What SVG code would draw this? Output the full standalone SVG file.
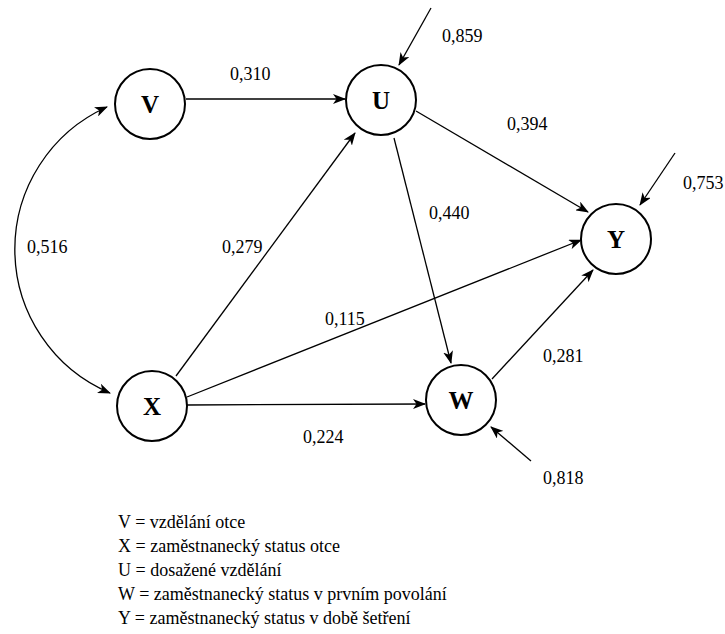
<svg xmlns="http://www.w3.org/2000/svg" width="725" height="634" viewBox="0 0 725 634">
<defs>
<marker id="ah" markerUnits="userSpaceOnUse" markerWidth="13" markerHeight="10" refX="12" refY="5" orient="auto-start-reverse">
<path d="M0,0 L13,5 L0,10 L3.5,5 z" fill="#000"/>
</marker>
<style>
.node circle{fill:#fff;stroke:#000;stroke-width:2}
.node text{font-family:"Liberation Serif","Times New Roman",serif;font-weight:bold;font-size:25px;text-anchor:middle}
.c{stroke:#000;stroke-width:1.3;fill:none;marker-end:url(#ah)}
.lbl{font-family:"Liberation Serif","Times New Roman",serif;font-size:18px;fill:#000}
.leg{font-family:"Liberation Serif","Times New Roman",serif;font-size:18px;fill:#000}
</style>
</defs>
<rect width="725" height="634" fill="#fff"/>
<g id="connectors">
<path class="c" d="M186,99 L345,99"/>
<path class="c" d="M416,111 L588,212"/>
<path class="c" d="M394,138 L451,363"/>
<path class="c" d="M176,376 L355,133"/>
<path class="c" d="M187,397 L581,240"/>
<path class="c" d="M187,405 L425,404"/>
<path class="c" d="M492,379 L593,270"/>
<path class="c" d="M431,8 L399,65"/>
<path class="c" d="M675,153 L640,205"/>
<path class="c" d="M531,461 L491,427"/>
<path class="c" d="M110,393 A156,156 0 0 1 107,107" marker-start="url(#ah)"/>
</g>
<g id="labels">
<text class="lbl" x="230" y="80">0,310</text>
<text class="lbl" x="442" y="42">0,859</text>
<text class="lbl" x="507" y="130">0,394</text>
<text class="lbl" x="683" y="189">0,753</text>
<text class="lbl" x="429" y="219">0,440</text>
<text class="lbl" x="27" y="253">0,516</text>
<text class="lbl" x="222" y="253">0,279</text>
<text class="lbl" x="325" y="325">0,115</text>
<text class="lbl" x="543" y="362">0,281</text>
<text class="lbl" x="303" y="443">0,224</text>
<text class="lbl" x="543" y="484">0,818</text>
</g>
<g id="V" class="node"><circle cx="150" cy="104" r="35"/><text x="150" y="113">V</text></g>
<g id="U" class="node"><circle cx="381" cy="100" r="35"/><text x="381" y="109">U</text></g>
<g id="Y" class="node"><circle cx="616" cy="239" r="35"/><text x="616" y="248">Y</text></g>
<g id="X" class="node"><circle cx="152" cy="406" r="35"/><text x="152" y="415">X</text></g>
<g id="W" class="node"><circle cx="461" cy="400" r="35"/><text x="461" y="409">W</text></g>
<g id="legend">
<text class="leg" x="118" y="528">V = vzdělání otce</text>
<text class="leg" x="118" y="552">X = zaměstnanecký status otce</text>
<text class="leg" x="118" y="576">U = dosažené vzdělání</text>
<text class="leg" x="118" y="600">W = zaměstnanecký status v prvním povolání</text>
<text class="leg" x="118" y="624">Y = zaměstnanecký status v době šetření</text>
</g>
</svg>
